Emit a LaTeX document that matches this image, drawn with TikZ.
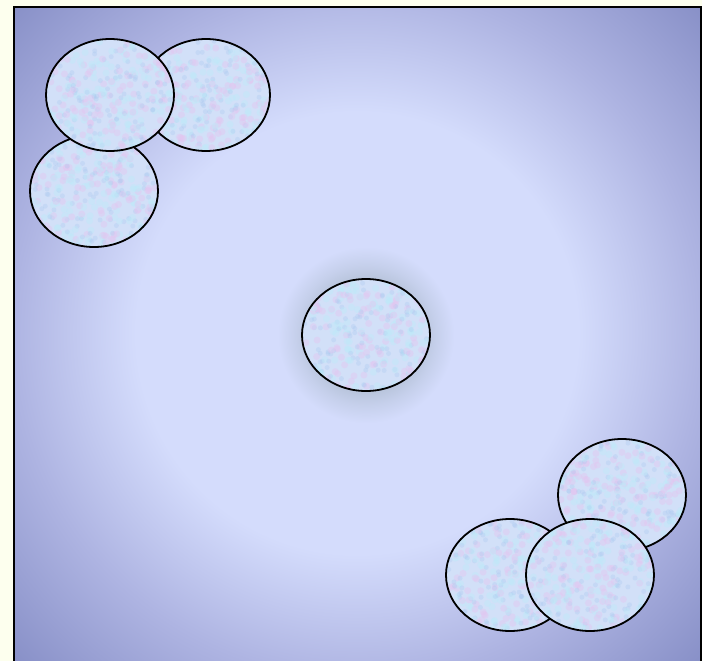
\documentclass[tikz,border=0pt]{standalone}
\usetikzlibrary{shapes.geometric}
\definecolor{outside}{HTML}{FDFFEE}
\definecolor{bglight}{HTML}{D4DCFC}
\definecolor{bgmid}{HTML}{AEB4E2}
\definecolor{bgdark}{HTML}{868EC6}
\definecolor{cellbase}{HTML}{D2E0F8}
\definecolor{cellpink}{HTML}{E4C4F0}
\definecolor{cellcyan}{HTML}{BCEAF8}
\definecolor{cellblue}{HTML}{A8C8F0}
\definecolor{glow}{HTML}{BAC6DE}
\pgfdeclareradialshading{bgshade}{\pgfpoint{0bp}{0bp}}{%
  color(0bp)=(bglight); color(220bp)=(bglight); color(343bp)=(bgmid); color(480bp)=(bgdark); color(520bp)=(bgdark)}
\pgfdeclareradialshading{glowshade}{\pgfpoint{0bp}{0bp}}{%
  color(0bp)=(glow); color(58bp)=(glow); color(70bp)=(glow!55!bglight); color(88bp)=(bglight); color(100bp)=(bglight)}
\tikzset{
  cell/.style={ellipse, draw=black, line width=1.8pt, fill=cellbase,
    minimum width=128pt, minimum height=112pt, inner sep=0pt,
    path picture={
      \foreach \k in {1,...,120}{
        \fill[cellpink, opacity=0.40] ([shift={(rand*62pt,rand*54pt)}]path picture bounding box.center) circle (3.5pt);
        \fill[cellcyan, opacity=0.40] ([shift={(rand*62pt,rand*54pt)}]path picture bounding box.center) circle (3.5pt);
        \fill[cellblue, opacity=0.30] ([shift={(rand*62pt,rand*54pt)}]path picture bounding box.center) circle (2.5pt);
      }
    }},
  frameline/.style={draw=black, line width=2pt}
}
\begin{document}
\begin{tikzpicture}[x=1pt,y=1pt]
\pgfmathsetseed{7}
\useasboundingbox (0,0) rectangle (702,-661);
\fill[outside] (0,0) rectangle (702,-661);
% background panel
\begin{scope}
  \clip (14,-7) rectangle (701,-661);
  \node[inner sep=0pt, outer sep=0pt] (bg) at (357,-333) {\pgfuseshading{bgshade}};
\end{scope}
% glow behind the centre cell
\begin{scope}
  \clip (366,-335) circle (98);
  \node[inner sep=0pt, outer sep=0pt] (halo) at (366,-335) {\pgfuseshading{glowshade}};
\end{scope}
% frame
\draw[frameline] (14,-661) -- (14,-7) -- (701,-7) -- (701,-661);
% top-left cluster
\node[cell] (c2) at (206,-95) {};
\node[cell] (c3) at (94,-191) {};
\node[cell] (c1) at (110,-95) {};
% centre
\node[cell] (c0) at (366,-335) {};
% bottom-right cluster
\node[cell] (c4) at (622,-495) {};
\node[cell] (c5) at (510,-575) {};
\node[cell] (c6) at (590,-575) {};
\end{tikzpicture}
\end{document}
